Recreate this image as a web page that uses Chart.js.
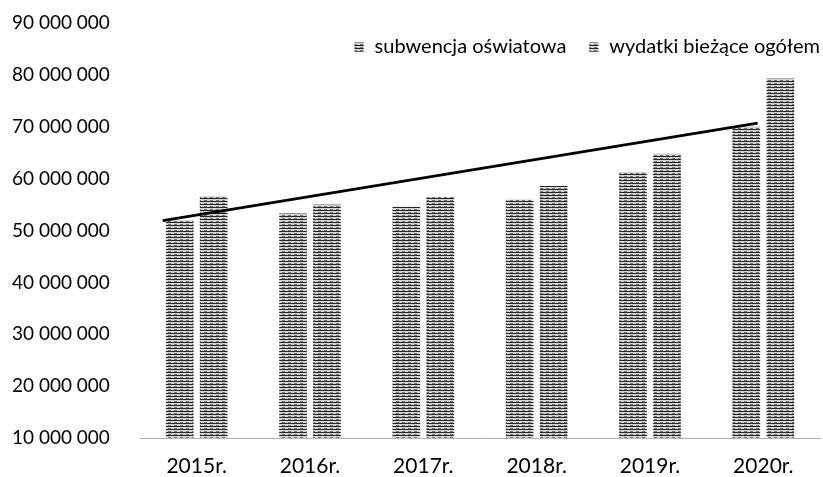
<!DOCTYPE html>
<html>
<head>
<meta charset="utf-8">
<script src="https://cdn.jsdelivr.net/npm/chart.js@4/dist/chart.umd.min.js"></script>
<style>
  html, body { margin: 0; padding: 0; background: #fff; }
  #wrap { width: 823px; height: 477px; }
</style>
</head>
<body>
<div id="wrap"><canvas id="chart" width="823" height="477"></canvas></div>
<script>
// chart data
const years = ['2015r.', '2016r.', '2017r.', '2018r.', '2019r.', '2020r.'];
const subwencja = [52000000, 53300000, 54600000, 56000000, 61300000, 70000000];
const wydatki = [56600000, 55000000, 56500000, 58600000, 64800000, 79300000];
// trend line end points (x in category units)
const trendX = [-0.3, 4.95];
const trendY = [51900000, 70700000];
const yTicks = [10000000, 20000000, 30000000, 40000000, 50000000, 60000000, 70000000, 80000000, 90000000];

// striped fill like the scanned print
function stripes() {
  const c = document.createElement('canvas');
  c.width = 6; c.height = 3;
  const g = c.getContext('2d');
  g.fillStyle = '#d4d4d4';
  g.fillRect(0, 0, 6, 3);
  g.fillStyle = '#262626';
  g.fillRect(0, 0, 6, 1);
  g.fillStyle = '#777';
  g.fillRect(0, 2, 3, 1);
  return g.createPattern(c, 'repeat');
}
const fill = stripes();

const fmt = v => String(v).replace(/\B(?=(\d{3})+(?!\d))/g, ' ');

// keep the legend out of the layout and put it inside the plot, top right
const legendInside = {
  id: 'legendInside',
  afterInit(chart) {
    const lg = chart.legend;
    const fit = lg.fit;
    lg.fit = function () { fit.call(this); this.height = 0; };
  },
  afterLayout(chart) {
    const lg = chart.legend;
    lg.top = 15;
    lg.height = 50;
    lg.bottom = 65;
    lg.left += 22;
    lg.right += 22;
  }
};

const ctx = document.getElementById('chart').getContext('2d');
new Chart(ctx, {
  type: 'bar',
  data: {
    labels: years,
    datasets: [
      {
        type: 'line',
        label: 'trend',
        data: trendX.map((x, i) => ({ x: x, y: trendY[i] })),
        xAxisID: 'xt',
        borderColor: '#000',
        borderWidth: 2.8,
        pointRadius: 0,
        order: 0
      },
      {
        type: 'bar',
        label: 'subwencja oświatowa',
        data: subwencja,
        backgroundColor: fill,
        order: 1
      },
      {
        type: 'bar',
        label: 'wydatki bieżące ogółem',
        data: wydatki,
        backgroundColor: fill,
        order: 1
      }
    ]
  },
  options: {
    responsive: false,
    animation: false,
    layout: { padding: { left: 12, right: 3, top: 23, bottom: 2 } },
    datasets: {
      bar: {
        barThickness: 34,
        borderColor: '#fff',
        borderWidth: { left: 3.5, right: 3.5, top: 0, bottom: 0 },
        borderSkipped: false
      }
    },
    plugins: {
      tooltip: { enabled: false },
      legend: {
        position: 'top',
        align: 'end',
        labels: {
          filter: item => item.text !== 'trend',
          boxWidth: 11,
          boxHeight: 11,
          padding: 22,
          color: '#000',
          font: { family: 'Lato', size: 20 }
        }
      }
    },
    scales: {
      x: {
        type: 'category',
        afterFit: s => { s.height = 37; },
        grid: { display: false },
        border: { display: true, color: '#b0b0b0', dash: [1, 3] },
        ticks: { color: '#000', padding: 8, font: { family: 'Lato', size: 21 } }
      },
      xt: {
        type: 'linear',
        display: false,
        offset: false,
        min: -0.5,
        max: 5.5
      },
      y: {
        min: 10000000,
        max: 90000000,
        afterBuildTicks: s => { s.ticks = yTicks.map(v => ({ value: v })); },
        afterFit: s => { s.width = 128; },
        grid: { display: false },
        border: { display: false },
        ticks: {
          color: '#000',
          crossAlign: 'far',
          font: { family: 'Lato', size: 19 },
          callback: v => fmt(v)
        }
      }
    }
  },
  plugins: [legendInside]
});
</script>
</body>
</html>
